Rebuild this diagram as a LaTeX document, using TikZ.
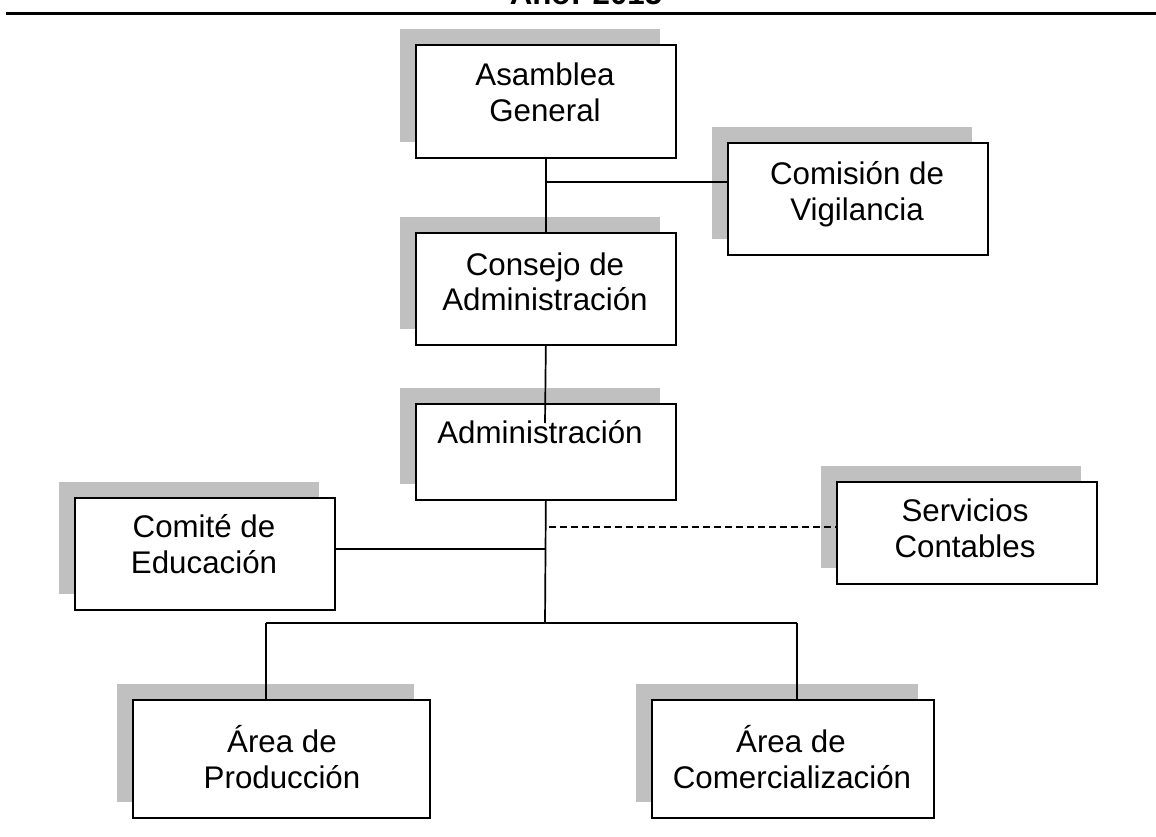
\documentclass[tikz,border=0pt]{standalone}
\usepackage{fontspec}
\setmainfont{Liberation Sans}
\usetikzlibrary{shadows}
\definecolor{shd}{RGB}{192,192,192}
\begin{document}
\begin{tikzpicture}[x=1pt,y=-1pt,
  box/.style={draw=black, line width=1.7pt, fill=white, rectangle, inner sep=0pt,
    anchor=north west, minimum width=260pt, minimum height=112pt,
    general shadow={fill=shd, shadow xshift=-16pt, shadow yshift=16pt}},
  lbl/.style={anchor=base, inner sep=0pt, font=\fontsize{31.3pt}{36pt}\selectfont},
  conn/.style={line width=1.7pt, black},
  dconn/.style={line width=1.3pt, black, dash pattern=on 7pt off 4pt}]
\useasboundingbox (0,0) rectangle (1156,836);
\fill[white] (0,0) rectangle (1156,836);
\begin{scope}
\clip (0,0) rectangle (1156,836);
\node[lbl, font=\fontsize{31.3pt}{36pt}\selectfont\bfseries] (title) at (586,4) {Año: 2015};
\end{scope}
\coordinate (hl) at (6,13);
\coordinate (hr) at (1156,13);
\draw[line width=3pt] (hl) -- (hr);

% boxes
\node[box, minimum height=113pt] (asm) at (415,44) {};
\node[box] (com) at (727,142) {};
\node[box] (con) at (415,232) {};
\node[box, minimum height=96pt] (adm) at (415,403) {};
\node[box] (cmt) at (74,497) {};
\node[box, minimum height=102pt] (srv) at (836,481) {};
\node[box, minimum width=297pt, minimum height=118pt] (prod) at (132,699) {};
\node[box, minimum width=282pt, minimum height=118pt] (comr) at (651,699) {};

% labels
\node[lbl] (asm1) at (545,85) {Asamblea};
\node[lbl] (asm2) at (545,121) {General};
\node[lbl] (com1) at (857,184) {Comisión de};
\node[lbl] (com2) at (857,220) {Vigilancia};
\node[lbl] (con1) at (545,275) {Consejo de};
\node[lbl] (con2) at (545,310) {Administración};
\node[lbl] (adm1) at (540,443) {Administración};
\node[lbl] (cmt1) at (204,537) {Comité de};
\node[lbl] (cmt2) at (204,573) {Educación};
\node[lbl] (srv1) at (965,521) {Servicios};
\node[lbl] (srv2) at (965,557) {Contables};
\node[lbl] (prod1) at (282,752) {Área de};
\node[lbl] (prod2) at (282,788) {Producción};
\node[lbl] (comr1) at (791,752) {Área de};
\node[lbl] (comr2) at (792,788) {Comercialización};

% junctions
\coordinate (j1) at (545,182);
\coordinate (a1) at (545,423);
\coordinate (jd) at (549,527);
\coordinate (jc) at (545,549);
\coordinate (j3) at (545,623);
\coordinate (bl) at (266,623);
\coordinate (br) at (797,623);

% connectors
\draw[conn] (asm.south) -- (con.north);
\draw[conn] (j1) -- (j1 -| com.west);
\draw[conn] (con.south) -- (a1);
\draw[conn] (adm.south) -- (j3);
\draw[conn] (jc -| cmt.east) -- (jc);
\draw[dconn] (jd) -- (jd -| srv.west);
\draw[conn] (bl) -- (br);
\draw[conn] (bl) -- (bl |- prod.north);
\draw[conn] (br) -- (br |- comr.north);
\end{tikzpicture}
\end{document}
